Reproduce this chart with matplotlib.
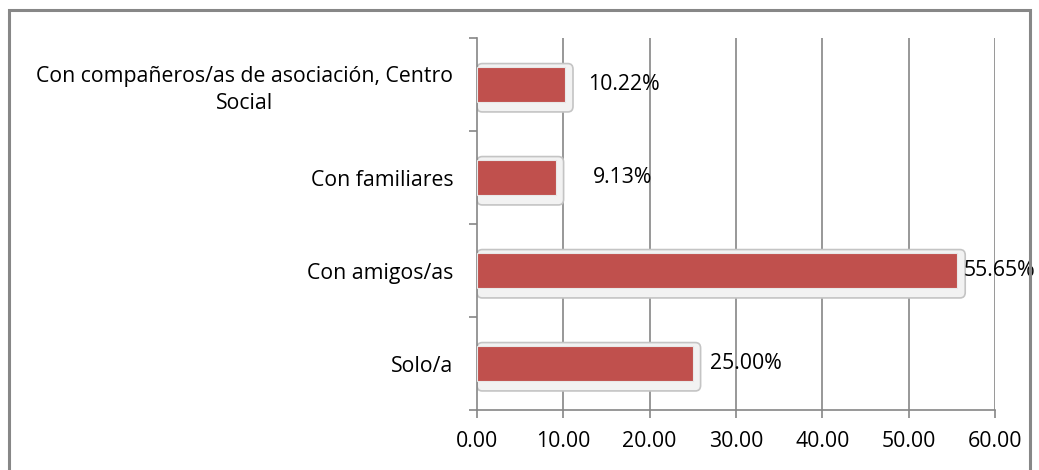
import matplotlib
matplotlib.use("Agg")
import matplotlib.pyplot as plt
from matplotlib.patches import FancyBboxPatch, Rectangle

categories = ["Solo/a", "Con amigos/as", "Con familiares",
              "Con compañeros/as de asociación, Centro\nSocial"]
values = [25.00, 55.65, 9.13, 10.22]
value_labels = ["25.00%", "55.65%", "9.13%", "10.22%"]
label_offsets_px = [17, 6, 37, 23]
xticks = [0, 10, 20, 30, 40, 50, 60]
xtick_labels = ["0.00", "10.00", "20.00", "30.00", "40.00", "50.00", "60.00"]

plt.rcParams['font.family'] = ['Open Sans', 'DejaVu Sans']
FS = 15.3

W, H = 1039, 470
fig = plt.figure(figsize=(W / 100, H / 100), dpi=100)
# outer border
fig.patches.append(Rectangle((9 / W, -0.05), (1030 - 9) / W, (H - 10) / H + 0.05,
                             transform=fig.transFigure, fill=False,
                             edgecolor="#878787", linewidth=2.2))

ax = fig.add_axes([477 / W, (H - 410) / H, (995 - 477) / W, (410 - 38) / H])
ax.set_xlim(0, 60)
ax.set_ylim(-0.5, len(categories) - 0.5)

for x in xticks[1:]:
    ax.axvline(x, color="#868686", linewidth=1.2, zorder=0)

bar_h = 0.37
for i, v in enumerate(values):
    # bevel/shadow frame
    frame = FancyBboxPatch((0, i - bar_h / 2 - 0.11), v + 0.9, bar_h + 0.15,
                           boxstyle="round,pad=0,rounding_size=0.6",
                           mutation_aspect=0.1,
                           facecolor="#f2f2f2", edgecolor="#c4c4c4",
                           linewidth=1.2, zorder=2)
    ax.add_patch(frame)
ax.barh(range(len(values)), values, height=bar_h, color="#c0504d",
        edgecolor="#e8e8e8", linewidth=0.8, zorder=3)

for i, (v, lab, off) in enumerate(zip(values, value_labels, label_offsets_px)):
    ax.annotate(lab, (v, i), xytext=(off * 0.72, 0), textcoords="offset points",
                ha="left", va="center", fontsize=FS, color="black", zorder=4)

ax.set_xticks(xticks)
ax.set_xticklabels(xtick_labels, fontsize=FS)
ax.set_yticks(range(len(categories)))
ax.set_yticklabels(categories, fontsize=FS, multialignment="center", linespacing=1.35)
ax.set_yticks([i - 0.5 for i in range(len(categories) + 1)], minor=True)
ax.tick_params(axis="y", which="major", length=0, pad=17)
ax.tick_params(axis="y", which="minor", length=6, color="#868686", width=1.2)
ax.tick_params(axis="x", which="major", length=6, color="#868686", width=1.2, pad=9)

for s in ["top", "right"]:
    ax.spines[s].set_visible(False)
for s in ["left", "bottom"]:
    ax.spines[s].set_color("#868686")
    ax.spines[s].set_linewidth(1.2)

fig.savefig("out.png", dpi=100)
